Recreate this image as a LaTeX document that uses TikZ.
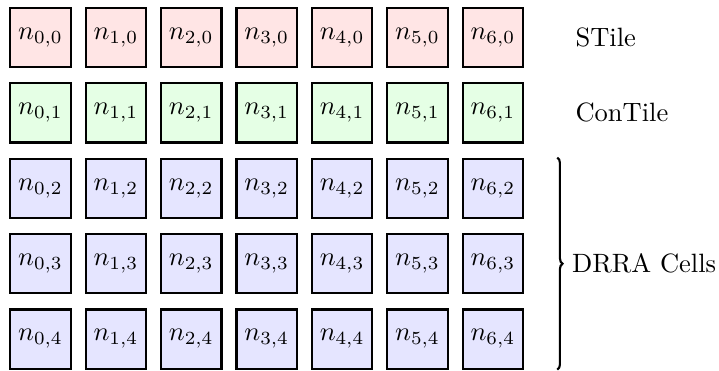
\documentclass[tikz,border=0pt]{standalone}
\usepackage{amsmath}
\usetikzlibrary{positioning,calc,decorations.pathreplacing}
\tikzset{
  % --- cells
  cell/.style   = {draw=black, thick, minimum width=0.8cm, minimum height=0.785cm,
                   inner sep=0pt},
  stile/.style  = {cell, fill=red!10},
  contile/.style= {cell, fill=green!10},
  drra/.style   = {cell, fill=blue!10},
  lbl/.style    = {anchor=west, inner sep=3pt},
}

\begin{document}
\begin{tikzpicture}
  \useasboundingbox (0,0) rectangle (9.536,-4.92);

  % ------------------------------------------------------------------ grid
  \foreach \x in {0,...,6} {
    \node[stile]   (n-\x-0) at (0.537+\x,-0.497) {$n_{\x,0}$};
    \node[contile] (n-\x-1) at (0.537+\x,-1.497) {$n_{\x,1}$};
    \foreach \y in {2,3,4}
      \node[drra] (n-\x-\y) at (0.537+\x,-0.497-\y) {$n_{\x,\y}$};
  }

  % ------------------------------------------------------------------ labels
  \node[lbl, right=0.57cm of n-6-0.east] (stile) {STile};
  \node[lbl, right=0.57cm of n-6-1.east] (contile) {ConTile};

  \coordinate (brtop) at ($(n-6-2.north east)+(0.44,0)$);
  \coordinate (brbot) at ($(n-6-4.south east)+(0.44,0)$);
  \draw[decorate, decoration={brace, amplitude=2pt}, thick]
    (brtop) -- (brbot);
  \node[lbl, inner sep=2pt] (drra) at ($(brtop)!0.5!(brbot)+(3.4pt,0)$) {DRRA Cells};
\end{tikzpicture}
\end{document}
